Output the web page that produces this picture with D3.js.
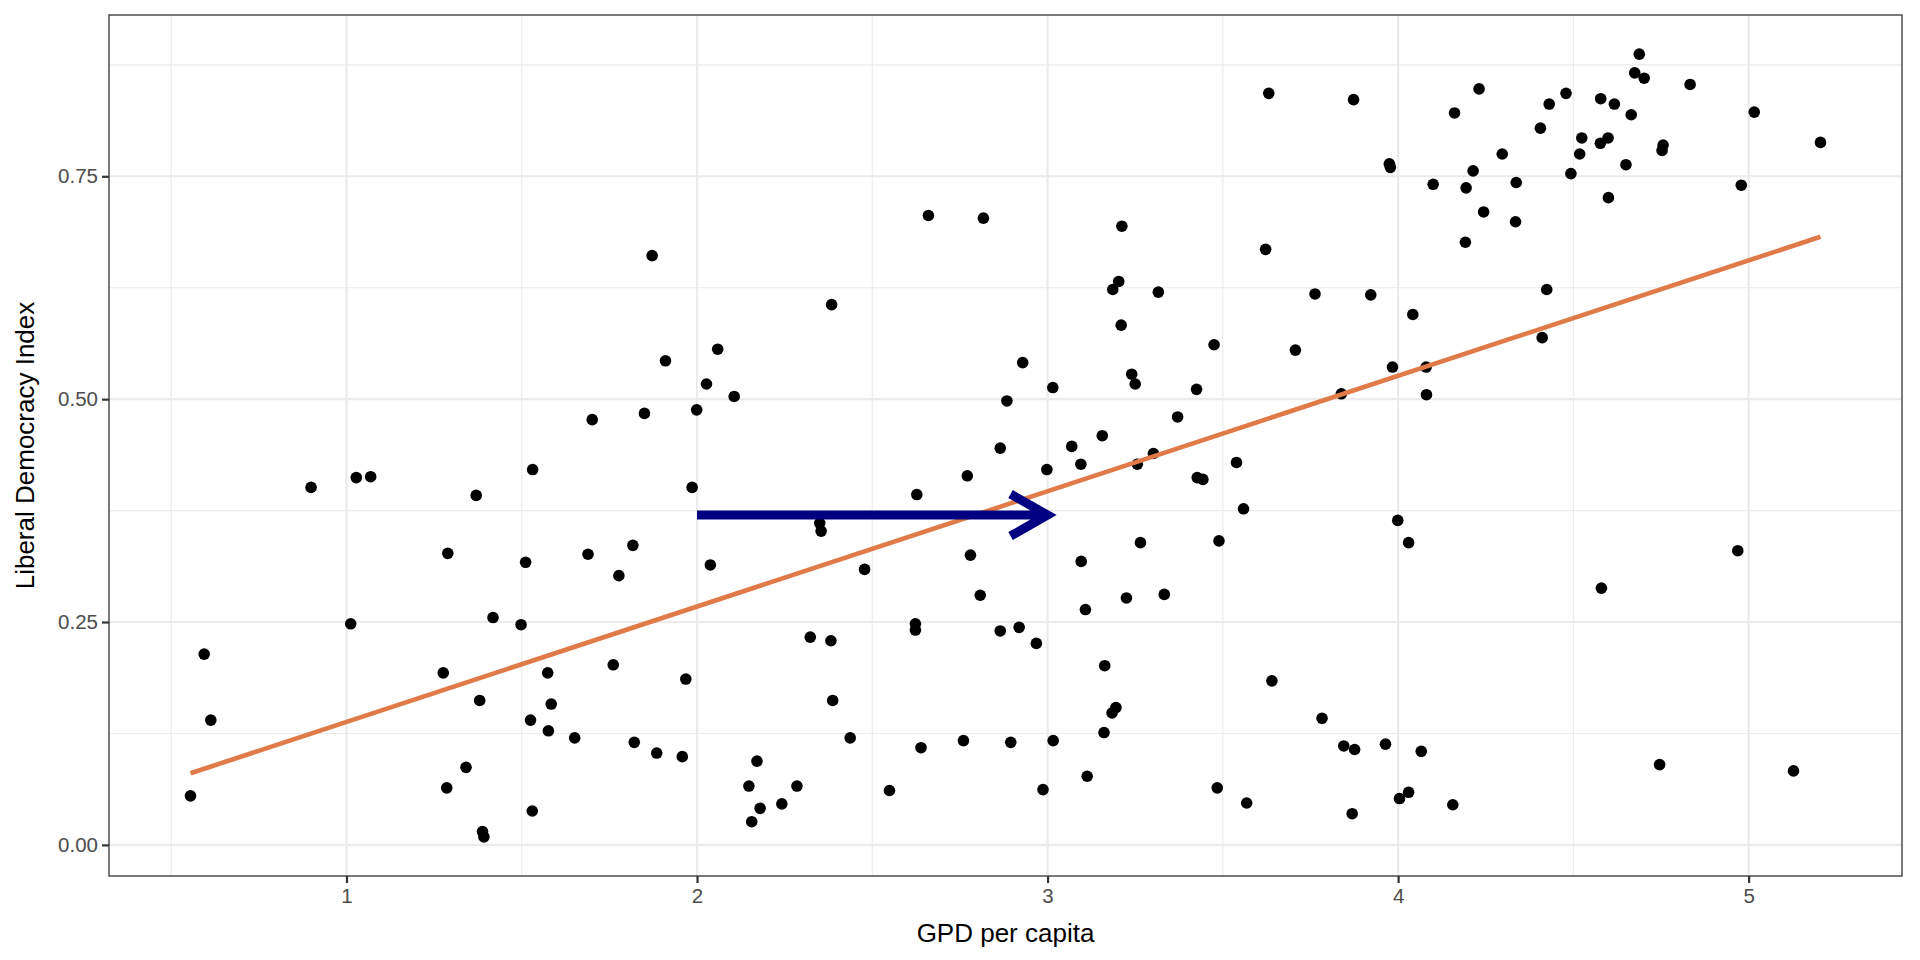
<!DOCTYPE html>
<html>
<head>
<meta charset="utf-8">
<script src="https://cdn.jsdelivr.net/npm/d3@7"></script>
<style>
  body { margin: 0; background: #fff; }
  svg { display: block; font-family: "Liberation Sans", Arial, sans-serif; }
</style>
</head>
<body>
<div id="chart"></div>
<script>
// GDP per capita (x) and Liberal Democracy Index (y)
const gdp = [
  0.555, 0.594, 0.613, 0.899, 1.012, 1.028, 1.069, 1.276, 1.286, 1.289,
  1.341, 1.370, 1.380, 1.388, 1.392, 1.418, 1.498, 1.511, 1.525, 1.530,
  1.531, 1.574, 1.576, 1.584, 1.651, 1.689, 1.701, 1.761, 1.777, 1.817,
  1.821, 1.850, 1.872, 1.885, 1.910, 1.958, 1.968, 1.986, 1.999, 2.027,
  2.038, 2.059, 2.106, 2.148, 2.156, 2.171, 2.180, 2.242, 2.285, 2.323,
  2.350, 2.354, 2.382, 2.384, 2.387, 2.437, 2.478, 2.549, 2.623, 2.623,
  2.627, 2.639, 2.660, 2.760, 2.771, 2.780, 2.808, 2.817, 2.865, 2.865,
  2.884, 2.895, 2.919, 2.929, 2.968, 2.987, 2.998, 3.015, 3.016, 3.069,
  3.095, 3.096, 3.108, 3.113, 3.156, 3.161, 3.163, 3.184, 3.195, 3.186,
  3.203, 3.210, 3.212, 3.225, 3.240, 3.250, 3.256, 3.265, 3.302, 3.316,
  3.333, 3.371, 3.425, 3.427, 3.443, 3.475, 3.484, 3.489, 3.539, 3.559,
  3.568, 3.622, 3.631, 3.640, 3.707, 3.763, 3.783, 3.838, 3.845, 3.869,
  3.873, 3.876, 3.922, 3.964, 3.975, 3.978, 3.984, 3.999, 4.004, 4.030,
  4.030, 4.042, 4.066, 4.080, 4.081, 4.100, 4.156, 4.161, 4.192, 4.194,
  4.214, 4.231, 4.244, 4.297, 4.335, 4.337, 4.406, 4.411, 4.424, 4.431,
  4.479, 4.493, 4.518, 4.524, 4.577, 4.578, 4.580, 4.599, 4.600, 4.617,
  4.650, 4.665, 4.675, 4.688, 4.702, 4.746, 4.753, 4.756, 4.833, 4.969,
  4.979, 5.016, 5.128, 5.205
];
const ldi = [
  0.055, 0.214, 0.140, 0.401, 0.248, 0.412, 0.413, 0.193, 0.064, 0.327,
  0.087, 0.392, 0.162, 0.015, 0.009, 0.255, 0.247, 0.317, 0.140, 0.038,
  0.421, 0.193, 0.128, 0.158, 0.120, 0.326, 0.477, 0.202, 0.302, 0.336,
  0.115, 0.484, 0.661, 0.103, 0.543, 0.099, 0.186, 0.401, 0.488, 0.517,
  0.314, 0.556, 0.503, 0.066, 0.026, 0.094, 0.041, 0.046, 0.066, 0.233,
  0.361, 0.352, 0.229, 0.606, 0.162, 0.120, 0.309, 0.061, 0.248, 0.241,
  0.393, 0.109, 0.706, 0.117, 0.414, 0.325, 0.280, 0.703, 0.445, 0.240,
  0.498, 0.115, 0.244, 0.541, 0.226, 0.062, 0.421, 0.513, 0.117, 0.447,
  0.427, 0.318, 0.264, 0.077, 0.459, 0.126, 0.201, 0.148, 0.154, 0.623,
  0.632, 0.583, 0.694, 0.277, 0.528, 0.517, 0.427, 0.339, 0.439, 0.620,
  0.281, 0.480, 0.511, 0.412, 0.410, 0.561, 0.064, 0.341, 0.429, 0.377,
  0.047, 0.668, 0.843, 0.184, 0.555, 0.618, 0.142, 0.506, 0.111, 0.035,
  0.836, 0.107, 0.617, 0.113, 0.764, 0.760, 0.536, 0.364, 0.052, 0.059,
  0.339, 0.595, 0.105, 0.536, 0.505, 0.741, 0.045, 0.821, 0.676, 0.737,
  0.756, 0.848, 0.710, 0.775, 0.699, 0.743, 0.804, 0.569, 0.623, 0.831,
  0.843, 0.753, 0.775, 0.793, 0.787, 0.837, 0.288, 0.793, 0.726, 0.831,
  0.763, 0.819, 0.866, 0.887, 0.860, 0.090, 0.779, 0.785, 0.853, 0.330,
  0.740, 0.822, 0.083, 0.788
];

const xTicks = [1, 2, 3, 4, 5];
const xMinor = [0.5, 1.5, 2.5, 3.5, 4.5];
const yTicks = [0, 0.25, 0.5, 0.75];
const yMinor = [0.125, 0.375, 0.625, 0.875];

// the arrow drawn on the plot: from x = 2 to x = 3 at y = 0.37
const arrowX = [2, 3];
const arrowY = 0.37;

const W = 1920, H = 960;
const margin = {top: 15, right: 18, bottom: 84, left: 109};

const data = gdp.map((g, i) => ({x: g, y: ldi[i]}));

// ggplot style 5% expansion
function expand([a, b]) { const d = (b - a) * 0.05; return [a - d, b + d]; }

const x = d3.scaleLinear()
  .domain(expand(d3.extent(gdp)))
  .range([margin.left, W - margin.right]);
const y = d3.scaleLinear()
  .domain(expand(d3.extent(ldi)))
  .range([H - margin.bottom, margin.top]);

// least squares line
const mx = d3.mean(gdp), my = d3.mean(ldi);
const slope = d3.sum(data, d => (d.x - mx) * (d.y - my)) / d3.sum(data, d => (d.x - mx) ** 2);
const intercept = my - slope * mx;
const fitX = d3.extent(gdp);

const svg = d3.select("#chart").append("svg")
  .attr("width", W)
  .attr("height", H);

const [x0, x1] = x.range();
const [y0, y1] = y.range();

// grid
const grid = svg.append("g");
grid.selectAll(".ym").data(yMinor).join("line")
  .attr("x1", x0).attr("x2", x1)
  .attr("y1", d => y(d)).attr("y2", d => y(d))
  .attr("stroke", "#ebebeb").attr("stroke-width", 1.1);
grid.selectAll(".xm").data(xMinor).join("line")
  .attr("y1", y0).attr("y2", y1)
  .attr("x1", d => x(d)).attr("x2", d => x(d))
  .attr("stroke", "#ebebeb").attr("stroke-width", 1.1);
grid.selectAll(".yM").data(yTicks).join("line")
  .attr("x1", x0).attr("x2", x1)
  .attr("y1", d => y(d)).attr("y2", d => y(d))
  .attr("stroke", "#ebebeb").attr("stroke-width", 2.2);
grid.selectAll(".xM").data(xTicks).join("line")
  .attr("y1", y0).attr("y2", y1)
  .attr("x1", d => x(d)).attr("x2", d => x(d))
  .attr("stroke", "#ebebeb").attr("stroke-width", 2.2);

// points
svg.append("g")
  .selectAll("circle")
  .data(data)
  .join("circle")
    .attr("cx", d => x(d.x))
    .attr("cy", d => y(d.y))
    .attr("r", 5.8)
    .attr("fill", "#000");

// fitted line
svg.append("line")
  .attr("x1", x(fitX[0])).attr("y1", y(intercept + slope * fitX[0]))
  .attr("x2", x(fitX[1])).attr("y2", y(intercept + slope * fitX[1]))
  .attr("stroke", "#e07a48")
  .attr("stroke-width", 4.6);

// arrow
const ax0 = x(arrowX[0]), ax1 = x(arrowX[1]), ay = y(arrowY);
svg.append("path")
  .attr("d", `M${ax0},${ay}H${ax1}M${ax1 - 37},${ay - 21}L${ax1},${ay}L${ax1 - 37},${ay + 21}`)
  .attr("fill", "none")
  .attr("stroke", "#000080")
  .attr("stroke-width", 9)
  .attr("stroke-linejoin", "miter")
  .attr("stroke-miterlimit", 10);

// panel border
svg.append("rect")
  .attr("x", x0).attr("y", y1)
  .attr("width", x1 - x0).attr("height", y0 - y1)
  .attr("fill", "none")
  .attr("stroke", "#333333")
  .attr("stroke-width", 1.3);

// axes
const xAxis = svg.append("g")
  .attr("transform", `translate(0,${y0})`)
  .call(d3.axisBottom(x).tickValues(xTicks).tickFormat(d3.format("d")).tickSizeOuter(0).tickSize(7).tickPadding(5));
const yAxis = svg.append("g")
  .attr("transform", `translate(${x0},0)`)
  .call(d3.axisLeft(y).tickValues(yTicks).tickFormat(d3.format(".2f")).tickSizeOuter(0).tickSize(7).tickPadding(4));

[xAxis, yAxis].forEach(g => {
  g.select(".domain").remove();
  g.selectAll(".tick line").attr("stroke", "#333333").attr("stroke-width", 2.2);
  g.selectAll(".tick text")
    .attr("fill", "#4d4d4d")
    .style("font-size", "20.5px")
    .style("font-family", "'Liberation Sans', Arial, sans-serif");
});

// axis titles
svg.append("text")
  .attr("x", (x0 + x1) / 2)
  .attr("y", H - 18)
  .attr("text-anchor", "middle")
  .style("font-size", "26px")
  .attr("fill", "#000")
  .text("GPD per capita");

svg.append("text")
  .attr("transform", `translate(34,${(y0 + y1) / 2}) rotate(-90)`)
  .attr("text-anchor", "middle")
  .style("font-size", "26px")
  .attr("fill", "#000")
  .text("Liberal Democracy Index");
</script>
</body>
</html>
